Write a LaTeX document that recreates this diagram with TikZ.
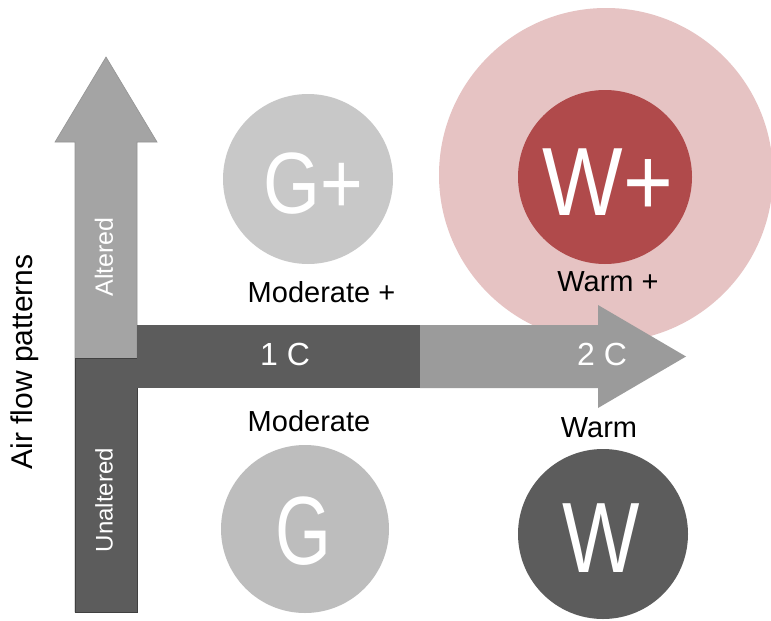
\documentclass[tikz,border=0pt]{standalone}
\usepackage{fontspec}
\setmainfont{Liberation Sans}
\definecolor{pinkc}{HTML}{E6C3C3}
\definecolor{redc}{HTML}{B04A4B}
\definecolor{lightc}{HTML}{C8C8C8}
\definecolor{lightc2}{HTML}{BDBDBD}
\definecolor{darkc}{HTML}{5C5C5C}
\definecolor{midc}{HTML}{A4A4A4}
\definecolor{midc2}{HTML}{9B9B9B}
\definecolor{edgec}{HTML}{404040}
\begin{document}
\begin{tikzpicture}[x=1pt,y=-1pt,
  lab/.style={font=\fontsize{29}{33}\selectfont, text=black, inner sep=0pt},
  inlab/.style={font=\fontsize{32}{36}\selectfont, text=white, inner sep=0pt},
  sidelab/.style={font=\fontsize{25}{29}\selectfont, text=white, inner sep=0pt, rotate=90},
  ball/.style={circle, inner sep=0pt},
  balltext/.style={inner sep=0pt, text=white}]
\useasboundingbox (0,0) rectangle (771,621);
\fill[white] (0,0) rectangle (771,621);
% outer pink halo
\node[ball, fill=pinkc, minimum size=334pt] (halo) at (606,175) {};
% vertical arrow
\fill[midc, draw=midc!90!black, line width=0.6pt] (75,612) -- (75,142) -- (55,142) -- (106,57) -- (157,142) -- (137,142) -- (137,612) -- cycle;
\fill[darkc, draw=edgec, line width=1pt] (75,358) rectangle (137,612);
% horizontal arrow
\fill[darkc] (137,325) rectangle (420,388);
\fill[midc2] (420,325) -- (598,325) -- (598,305) -- (686,356.5) -- (598,408) -- (598,388) -- (420,388) -- cycle;
% circles
\node[ball, fill=lightc, minimum size=170pt] (gplus) at (308,179) {};
\node[ball, fill=lightc2, minimum size=168pt] (g) at (305,529) {};
\node[ball, fill=redc, minimum size=174pt] (wplus) at (605,177) {};
\node[ball, fill=darkc, minimum size=170pt] (w) at (603,534) {};
\node[balltext, font=\fontsize{87}{90}\selectfont] (gplust) at (313,184) {\scalebox{0.84}[1]{G+}};
\node[balltext, font=\fontsize{97}{100}\selectfont] (gt) at (303,531) {\scalebox{0.74}[1]{G}};
\node[balltext, font=\fontsize{97}{100}\selectfont] (wplust) at (608,182) {\scalebox{0.88}[1]{W+}};
\node[balltext, font=\fontsize{100}{104}\selectfont] (wt) at (601,538) {\scalebox{0.82}[1]{W}};
% labels
\node[lab] (modp) at (321.5,292.5) {Moderate +};
\node[lab] (mod) at (309,421) {Moderate};
\node[lab] (warmp) at (608,282) {Warm +};
\node[lab] (warm) at (599,428) {Warm};
\node[inlab] (c1) at (285,354) {1 C};
\node[inlab] (c2) at (602,354) {2 C};
\node[lab, rotate=90, font=\fontsize{30}{34}\selectfont] (air) at (25,362) {Air flow patterns};
\node[sidelab] (alt) at (104,257) {Altered};
\node[sidelab, font=\fontsize{24}{28}\selectfont] (unalt) at (104,500) {Unaltered};
\end{tikzpicture}
\end{document}
